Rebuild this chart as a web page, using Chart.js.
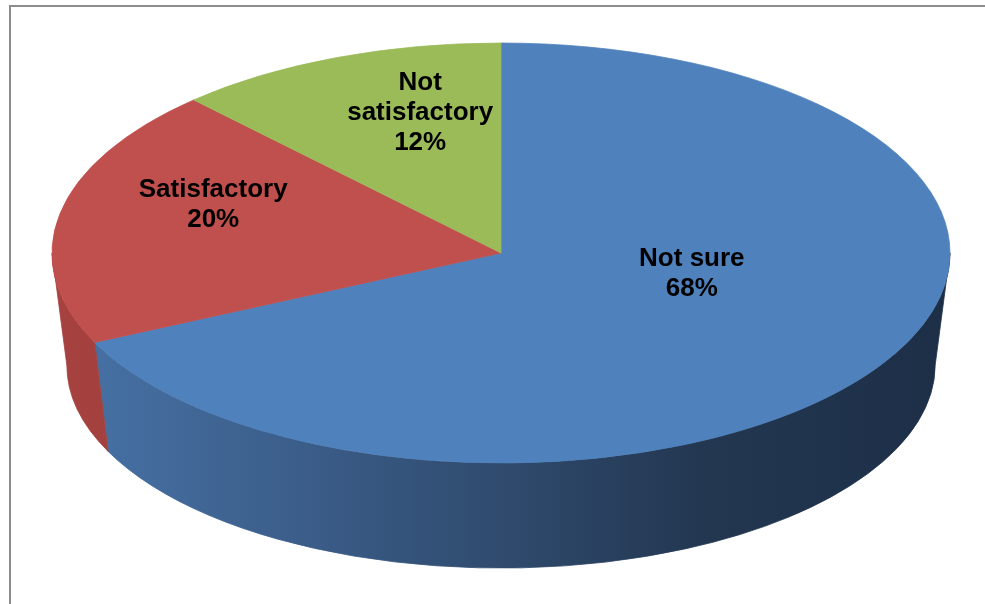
<!DOCTYPE html>
<html><head><meta charset="utf-8">
<script src="https://cdn.jsdelivr.net/npm/chart.js@4.4.1/dist/chart.umd.min.js"></script>
<style>
html,body{margin:0;padding:0;background:#fff;overflow:hidden}
#wrap{position:relative;width:985px;height:604px;background:#fff}
#frame{position:absolute;left:9px;top:5px;width:1000px;height:700px;border:2px solid #8c8c8c;box-sizing:border-box;pointer-events:none}
canvas{position:absolute;left:0;top:0}
</style></head><body>
<div id="wrap"><canvas id="c" width="985" height="604" style="width:985px;height:604px"></canvas><div id="frame"></div></div>
<script>
// ---- data ----
const categories = ['Not sure', 'Satisfactory', ['Not', 'satisfactory']];
const values = [68, 20, 12];
const topColours = ['#4F81BD', '#C0504D', '#9BBB59'];

// ---- style / geometry ----
const TILT = 210 / 449;          // vertical squash of the top face
const DEPTH = 112;               // vertical offset of the bottom ellipse
const BOTTOM_SCALE = 0.967;      // bottom ellipse slightly smaller (perspective)
const labelOffsets = [[0.425, 0.10], [-0.641, -0.229], [-0.180, -0.667]]; // in units of rx, ry
const sideStops = [
  [['0', '#4874a8'], ['0.28', '#3b5d89'], ['0.5', '#2f4b6e'], ['0.72', '#233751'], ['1', '#1d2f47']],
  [['0', '#a6423f'], ['1', '#7a2f2d']],
  [['0', '#7f9a48'], ['1', '#5d7234']]
];

const pie3d = {
  id: 'pie3d',
  beforeDatasetsDraw(chart) {
    const ctx = chart.ctx;
    const meta = chart.getDatasetMeta(0);
    const e0 = meta.data[0];
    const cx = e0.x, cy = e0.y, rx = e0.outerRadius, ry = rx * TILT;
    const rxb = rx * BOTTOM_SCALE, ryb = ry * BOTTOM_SCALE, cyb = cy + DEPTH;
    meta.data.forEach((el, i) => {
      const a = el.startAngle, b = el.endAngle;
      [-2 * Math.PI, 0, 2 * Math.PI].forEach(s => {
        const lo = Math.max(a + s, 0), hi = Math.min(b + s, Math.PI);
        if (hi <= lo) return;
        const g = ctx.createLinearGradient(cx - rx, 0, cx + rx, 0);
        sideStops[i].forEach(([o, c]) => g.addColorStop(+o, c));
        ctx.save();
        ctx.beginPath();
        ctx.ellipse(cx, cy, rx, ry, 0, lo, hi, false);
        ctx.ellipse(cx, cyb, rxb, ryb, 0, hi, lo, true);
        ctx.closePath();
        ctx.fillStyle = g;
        ctx.fill();
        ctx.strokeStyle = g;
        ctx.lineWidth = 0.8;
        ctx.stroke();
        ctx.restore();
      });
    });
    ctx.save();
    ctx.translate(0, cy);
    ctx.scale(1, TILT);
    ctx.translate(0, -cy);
  },
  afterDatasetsDraw(chart) {
    chart.ctx.restore();
  },
  afterDraw(chart) {
    const ctx = chart.ctx;
    const meta = chart.getDatasetMeta(0);
    const total = values.reduce((p, v) => p + v, 0);
    ctx.save();
    ctx.font = 'bold 26px "Liberation Sans", Arial, sans-serif';
    ctx.fillStyle = '#000';
    ctx.textAlign = 'center';
    ctx.textBaseline = 'middle';
    meta.data.forEach((el, i) => {
      const rx = el.outerRadius, ry = rx * TILT;
      const x = el.x + labelOffsets[i][0] * rx;
      const y = el.y + labelOffsets[i][1] * ry;
      const name = [].concat(categories[i]);
      const lines = name.concat([Math.round(values[i] / total * 100) + '%']);
      const lh = 30;
      const y0 = y - (lines.length - 1) * lh / 2;
      lines.forEach((t, k) => ctx.fillText(t, x, y0 + k * lh));
    });
    ctx.restore();
  }
};

new Chart(document.getElementById('c'), {
  type: 'pie',
  data: {
    labels: categories,
    datasets: [{
      data: values,
      backgroundColor: topColours,
      borderColor: topColours,
      borderWidth: 1,
      radius: 449,
      clip: 1000
    }]
  },
  options: {
    responsive: false,
    animation: false,
    layout: { padding: { left: 17, right: 0, top: 0, bottom: 98 } },
    plugins: { legend: { display: false }, tooltip: { enabled: false } }
  },
  plugins: [pie3d]
});
</script>
</body></html>
